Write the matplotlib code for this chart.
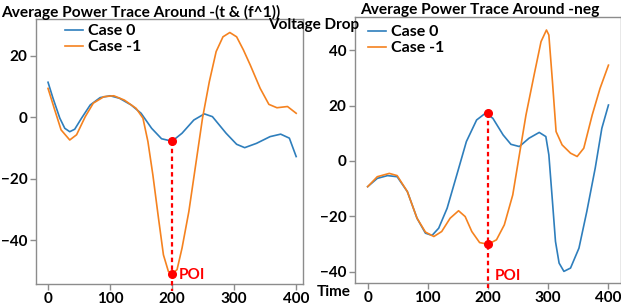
import matplotlib
matplotlib.use("Agg")
import matplotlib.pyplot as plt

# ---------------- data ----------------
left_title = "Average Power Trace Around -(t & (f^1))"
right_title = "Average Power Trace Around -neg"
series_labels = ["Case 0", "Case -1"]

left_case0_x = [0, 8, 19, 27, 35, 43, 54, 68, 84, 100, 115, 134, 150, 167, 183, 200,
                216, 235, 252, 265, 287, 304, 317, 336, 358, 375, 389, 400]
left_case0_y = [11.4, 6.2, -0.3, -3.6, -4.7, -3.9, -0.3, 4.0, 6.4, 7.0, 6.2, 4.0, 1.3, -3.6,
                -7.0, -7.8, -5.2, -0.9, 1.1, 0.2, -5.2, -8.8, -9.9, -8.5, -6.3, -5.5, -6.8, -12.8]

left_case1_x = [0, 10, 21, 35, 46, 60, 73, 90, 106, 123, 142, 153, 161, 169, 178, 186, 194,
                200, 208, 216, 227, 238, 249, 260, 271, 282, 293, 304, 315, 326, 342, 356,
                369, 386, 400]
left_case1_y = [9.4, 2.9, -4.1, -7.4, -5.7, 0.2, 4.6, 6.7, 7.0, 5.6, 2.9, -0.3, -7.9, -18.8,
                -32.8, -44.8, -50.2, -51.0, -49.6, -42.6, -30.7, -15.5, -0.3, 11.6, 21.4, 26.2,
                27.6, 26.2, 21.9, 17.0, 9.4, 4.2, 3.1, 3.5, 1.3]

right_case0_x = [0, 16, 33, 49, 66, 82, 96, 107, 118, 132, 148, 164, 181, 196, 208, 225,
                 238, 252, 268, 285, 296, 301, 307, 312, 318, 326, 337, 351, 364, 378, 389, 400]
right_case0_y = [-9.3, -6.3, -5.3, -5.7, -11.1, -20.7, -26.1, -26.9, -24.3, -17.1, -5.1, 7.0,
                 14.8, 17.3, 15.4, 9.4, 6.0, 5.2, 8.2, 10.3, 8.8, 2.2, -14.7, -29.1, -36.9,
                 -39.9, -38.7, -31.5, -18.3, -2.6, 11.8, 20.2]

right_case1_x = [0, 16, 36, 49, 66, 82, 96, 110, 123, 137, 151, 162, 173, 186, 200, 214,
                 227, 241, 252, 263, 277, 288, 297, 301, 307, 313, 323, 337, 348, 359, 373,
                 386, 400]
right_case1_y = [-9.3, -5.7, -4.5, -5.3, -11.1, -20.7, -25.7, -27.3, -25.5, -20.7, -18.0,
                 -20.1, -25.5, -29.5, -30.1, -28.5, -23.1, -12.3, 2.2, 16.6, 31.6, 43.1, 47.3,
                 45.5, 28.6, 10.6, 5.8, 2.8, 1.6, 4.6, 16.6, 26.2, 34.6]

poi_x = 200
left_poi_y = [-7.8, -51.0]
right_poi_y = [17.3, -30.1]
x_ticks = [0, 100, 200, 300, 400]
left_y_ticks = [-40, -20, 0, 20]
right_y_ticks = [-40, -20, 0, 20, 40]

# ---------------- style ----------------
FONT = ["Lato", "DejaVu Sans"]
plt.rcParams["font.family"] = FONT
plt.rcParams["font.weight"] = "bold"
BLUE = "#2e7ebc"
ORANGE = "#f5821f"
RED = "#ff0000"
GRAY = "#8c8c8c"
W, H = 621, 308

fig = plt.figure(figsize=(6.21, 3.08), dpi=100)
axL = fig.add_axes([36 / W, 1 - 284 / H, 267 / W, 265 / H])
axR = fig.add_axes([355 / W, 1 - 283 / H, 265.5 / W, 266 / H])


def style(ax, yt):
    for s in ax.spines.values():
        s.set_color(GRAY)
        s.set_linewidth(1.0)
    ax.set_xticks(x_ticks)
    ax.set_yticks(yt)
    ax.tick_params(axis="both", colors=GRAY, length=4, width=1, labelsize=11,
                   labelcolor="black", pad=2)
    for lab in ax.get_xticklabels() + ax.get_yticklabels():
        lab.set_fontweight("bold")


def draw(ax, x0, y0, x1, y1, poi_y, bottom_y, title, title_xy, leg_xy, poi_text_xy):
    l0, = ax.plot(x0, y0, color=BLUE, lw=1.2, label=series_labels[0])
    l1, = ax.plot(x1, y1, color=ORANGE, lw=1.2, label=series_labels[1])
    ax.plot([poi_x, poi_x], [poi_y[0], bottom_y], color=RED, lw=1.6, ls=(0, (2, 1.5)),
            clip_on=False, zorder=4)
    ax.plot([poi_x, poi_x], poi_y, "o", color=RED, ms=5.5, zorder=5, clip_on=False)
    ax.text(poi_text_xy[0], poi_text_xy[1], "POI", color=RED, fontsize=11,
            fontweight="bold", va="center", ha="left")
    fig.text(title_xy[0] / W, 1 - title_xy[1] / H, title, fontsize=11.2, fontweight="bold",
             ha="center", va="center")
    leg = ax.legend(handles=[l0, l1], loc="upper left", bbox_to_anchor=(leg_xy[0] / W, 1 - leg_xy[1] / H),
                    bbox_transform=fig.transFigure,
                    frameon=False, fontsize=11.5, handlelength=1.1, handletextpad=0.35,
                    labelspacing=0.12, borderaxespad=0, borderpad=0)
    for t in leg.get_texts():
        t.set_fontweight("bold")


draw(axL, left_case0_x, left_case0_y, left_case1_x, left_case1_y, left_poi_y, -56.5,
     left_title, (141, 12), (65, 24), (210, -51.5))
axL.set_xlim(-19.4, 411)
axL.set_ylim(-54.3, 32)
style(axL, left_y_ticks)

draw(axR, right_case0_x, right_case0_y, right_case1_x, right_case1_y, right_poi_y, -46,
     right_title, (480, 10), (368, 25), (211, -41.6))
axR.set_xlim(-21, 420)
axR.set_ylim(-44.1, 52)
style(axR, right_y_ticks)

fig.text(313.5 / W, 1 - 25 / H, "Voltage Drop", fontsize=11, fontweight="bold",
         ha="center", va="center")
fig.text(334 / W, 1 - 292 / H, "Time", fontsize=11, fontweight="bold",
         ha="center", va="center")

fig.savefig("out.png", dpi=100)
